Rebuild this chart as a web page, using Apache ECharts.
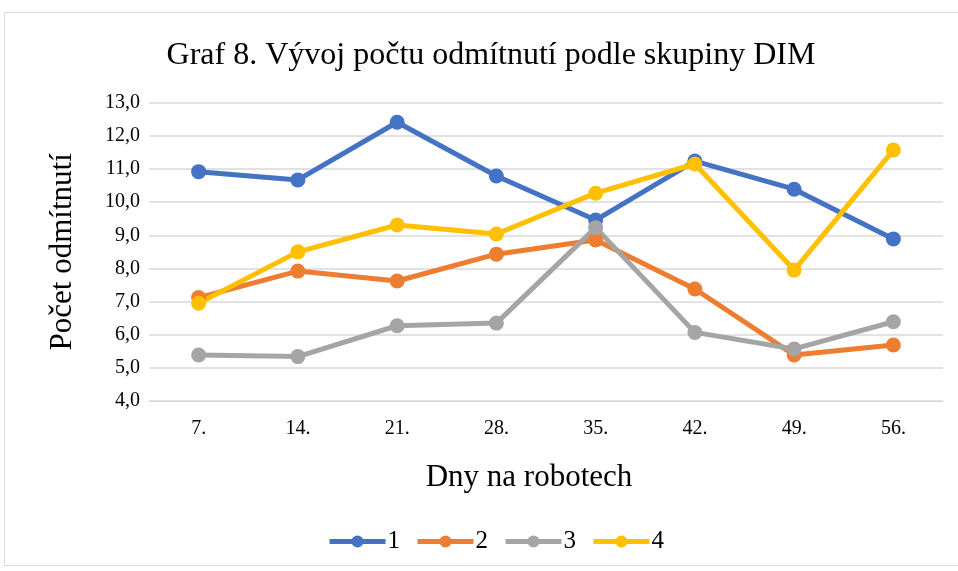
<!DOCTYPE html>
<html>
<head>
<meta charset="utf-8">
<script src="https://cdn.jsdelivr.net/npm/echarts@6/dist/echarts.min.js"></script>
<style>
  html, body { margin: 0; padding: 0; background: #fff; }
  #chart { width: 958px; height: 571px; }
</style>
</head>
<body>
<div id="chart"></div>
<script>
const categories = ['7.', '14.', '21.', '28.', '35.', '42.', '49.', '56.'];
const group1 = [10.92, 10.67, 12.41, 10.79, 9.46, 11.24, 10.39, 8.89];
const group2 = [7.12, 7.92, 7.62, 8.43, 8.86, 7.38, 5.39, 5.69];
const group3 = [5.39, 5.34, 6.27, 6.35, 9.23, 6.07, 5.57, 6.39];
const group4 = [6.95, 8.50, 9.31, 9.04, 10.27, 11.15, 7.95, 11.57];
const seriesNames = ['1', '2', '3', '4'];
const colors = ['#4472C4', '#ED7D31', '#A5A5A5', '#FFC000'];

const font = '"Liberation Serif", "DejaVu Serif", serif';
const chart = echarts.init(document.getElementById('chart'));

const makeSeries = (name, data, color) => ({
  name,
  type: 'line',
  data,
  symbol: 'circle',
  symbolSize: 15,
  itemStyle: { color },
  lineStyle: { color, width: 5 },
  emphasis: { disabled: true },
  animation: false
});

chart.setOption({
  textStyle: { fontFamily: font },
  graphic: [{
    type: 'rect',
    shape: { x: 4.5, y: 12.5, width: 980, height: 553 },
    style: { fill: 'none', stroke: '#D9D9D9', lineWidth: 1 },
    silent: true
  }],
  title: {
    text: 'Graf 8. Vývoj počtu odmítnutí podle skupiny DIM',
    left: 486,
    textAlign: 'center',
    top: 35,
    textStyle: { fontFamily: font, fontSize: 32, fontWeight: 'normal', color: '#000' }
  },
  legend: {
    bottom: 12,
    left: 322,
    itemWidth: 56,
    itemHeight: 15,
    itemGap: 15,
    lineStyle: { width: 5 },
    textStyle: { fontFamily: font, fontSize: 25, color: '#000', padding: [0, 0, 0, -3] },
    data: seriesNames
  },
  grid: {
    left: 149,
    right: 15,
    top: 102.7,
    bottom: 170
  },
  xAxis: {
    type: 'category',
    data: categories,
    name: 'Dny na robotech',
    nameLocation: 'middle',
    nameGap: 61,
    nameTextStyle: { fontFamily: font, fontSize: 31, color: '#000', padding: [0, 34, 0, 0] },
    axisLine: { lineStyle: { color: '#D9D9D9' } },
    axisTick: { show: false },
    axisLabel: { fontFamily: font, fontSize: 20, color: '#000', margin: 18 }
  },
  yAxis: {
    type: 'value',
    min: 4,
    max: 13,
    interval: 1,
    name: 'Počet odmítnutí',
    nameLocation: 'middle',
    nameGap: 71,
    nameTextStyle: { fontFamily: font, fontSize: 31, color: '#000' },
    axisLine: { show: false },
    axisTick: { show: false },
    splitLine: { lineStyle: { color: '#D9D9D9', width: 1.5 } },
    axisLabel: {
      fontFamily: font,
      fontSize: 20,
      color: '#000',
      margin: 9,
      formatter: (v) => v.toFixed(1).replace('.', ',')
    }
  },
  series: [
    makeSeries(seriesNames[0], group1, colors[0]),
    makeSeries(seriesNames[1], group2, colors[1]),
    makeSeries(seriesNames[2], group3, colors[2]),
    makeSeries(seriesNames[3], group4, colors[3])
  ]
});
</script>
</body>
</html>
